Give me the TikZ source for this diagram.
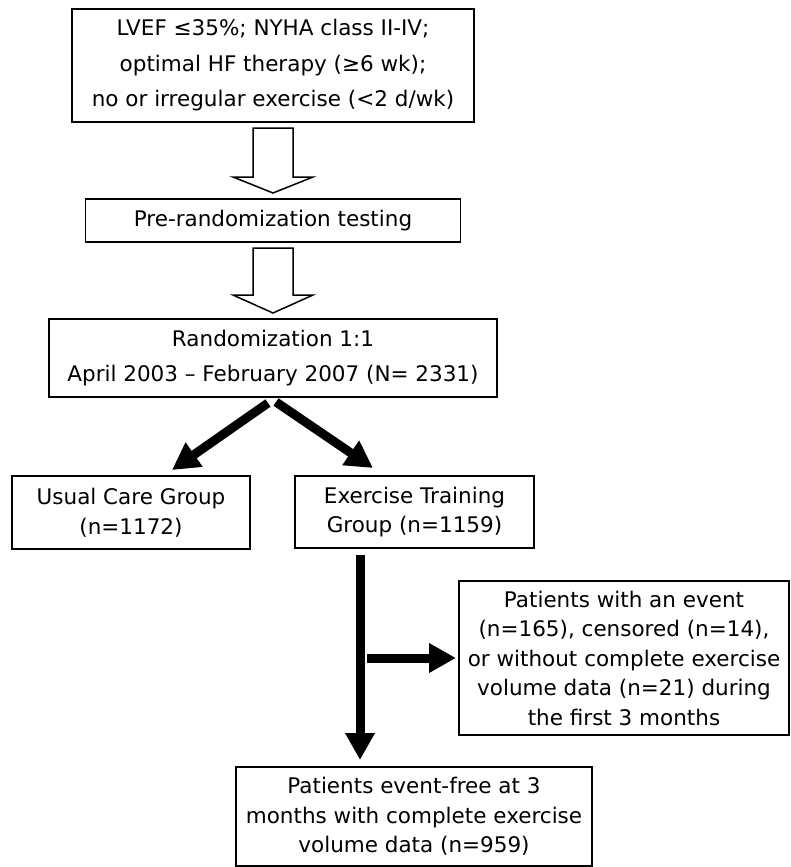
\documentclass[tikz,border=0pt]{standalone}
\usepackage{fontspec}
\setmainfont{DejaVu Sans}
\usetikzlibrary{arrows.meta,positioning}

\begin{document}
\begin{tikzpicture}[x=1pt,y=-1pt,>={Triangle[length=27pt,width=28pt]}]

            \tikzstyle{box}=[draw=black,line width=1.6pt,inner sep=0pt,outer sep=0pt,align=center,font=\fontsize{21.5pt}{29.5pt}\selectfont]
            \tikzstyle{loose}=[font=\fontsize{21.5pt}{35.5pt}\selectfont]
            \tikzstyle{flow}=[->,line width=9pt]
            \tikzstyle{hollow}=[draw=black,fill=white,line width=1.5pt,line join=miter]

            \useasboundingbox (0,0) rectangle (790,867);

            \node[box,loose,minimum width=402pt,minimum height=113pt] (crit) at (273,65.5)
                {LVEF ≤35\%; NYHA class II-IV;\\optimal HF therapy (≥6 wk);\\no or irregular exercise (<2 d/wk)};
            \node[box,minimum width=375pt,minimum height=43pt] (pretest) [below=77pt of crit] {Pre-randomization testing};
            \node[box,loose,minimum width=448pt,minimum height=78pt] (random) [below=77pt of pretest]
                {Randomization 1:1\\April 2003 – February 2007 (N= 2331)};
            \node[box,minimum width=238pt,minimum height=73pt] (usual) at (131,512.5) {Usual Care Group\\(n=1172)};
            \node[box,minimum width=239pt,minimum height=72pt] (exercise) at (414.5,512) {Exercise Training\\Group (n=1159)};
            \node[box,minimum width=330pt,minimum height=154pt] (excl) at (624,658)
                {Patients with an event\\(n=165), censored (n=14),\\or without complete exercise\\volume data (n=21) during\\the first 3 months};
            \node[box,minimum width=356pt,minimum height=99pt] (final) at (414,816.5)
                {Patients event-free at 3\\months with complete exercise\\volume data (n=959)};

            \draw[hollow] ([xshift=-20pt,yshift=-6pt]crit.south) -- ([xshift=-20pt,yshift=22pt]pretest.north)
                -- ([xshift=-40pt,yshift=22pt]pretest.north) -- ([yshift=6pt]pretest.north)
                -- ([xshift=40pt,yshift=22pt]pretest.north) -- ([xshift=20pt,yshift=22pt]pretest.north)
                -- ([xshift=20pt,yshift=-6pt]crit.south) -- cycle;
            \draw[hollow] ([xshift=-20pt,yshift=-6pt]pretest.south) -- ([xshift=-20pt,yshift=24pt]random.north)
                -- ([xshift=-40pt,yshift=24pt]random.north) -- ([yshift=6pt]random.north)
                -- ([xshift=40pt,yshift=24pt]random.north) -- ([xshift=20pt,yshift=24pt]random.north)
                -- ([xshift=20pt,yshift=-6pt]pretest.south) -- cycle;

            \draw[flow] ([xshift=-5pt,yshift=-6pt]random.south) -- ([xshift=41pt,yshift=6pt]usual.north);
            \draw[flow] ([xshift=3pt,yshift=-5pt]random.south) -- ([xshift=-41.5pt,yshift=8pt]exercise.north);

            \coordinate (trunk) at ([xshift=-54.5pt,yshift=-7pt]exercise.south);
            \coordinate (branch) at (trunk |- excl.west);
            \draw[flow] (trunk) -- ([xshift=-54pt,yshift=7pt]final.north);
            \draw[flow] ([xshift=7pt]branch) -- ([xshift=-3pt]excl.west);
        \end{tikzpicture}
\end{document}
